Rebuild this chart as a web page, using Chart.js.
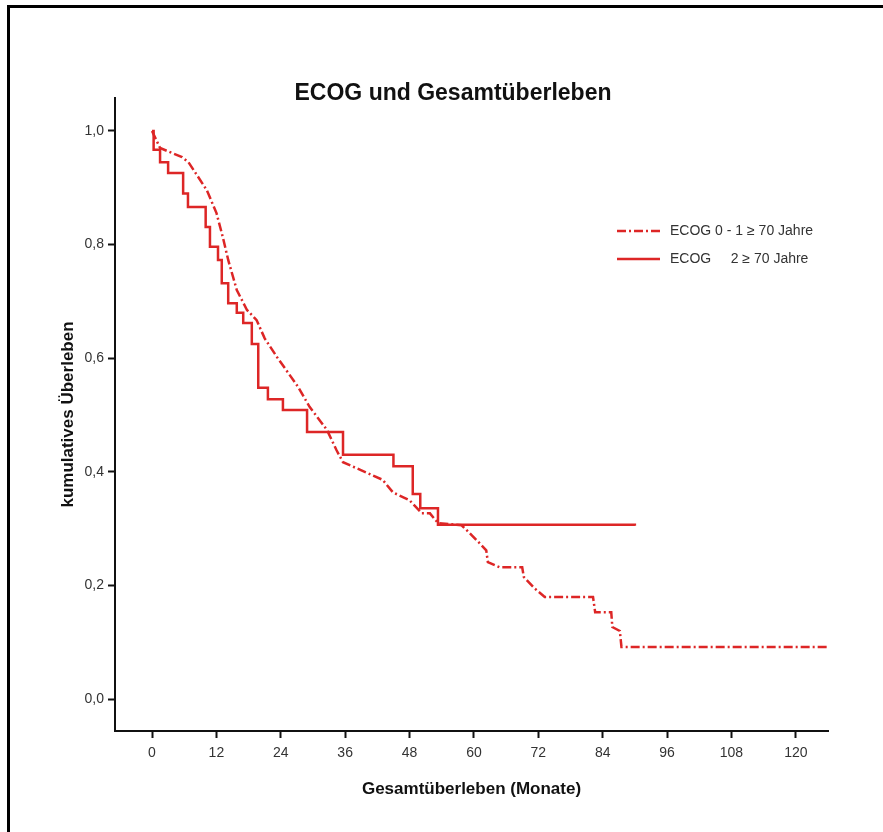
<!DOCTYPE html>
<html>
<head>
<meta charset="utf-8">
<script src="https://cdn.jsdelivr.net/npm/chart.js@4.4.1/dist/chart.umd.min.js"></script>
<style>
  html, body { margin: 0; padding: 0; background: #fff; }
  #wrap { width: 883px; height: 832px; }
</style>
</head>
<body>
<div id="wrap"><canvas id="km" width="883" height="832"></canvas></div>
<script>
// Kaplan-Meier data (months, cumulative survival)
const titleText = 'ECOG und Gesamtüberleben';
const xTitle = 'Gesamtüberleben (Monate)';
const yTitle = 'kumulatives Überleben';
const seriesLabels = ['ECOG 0 - 1 \u2265 70 Jahre', 'ECOG     2 \u2265 70 Jahre'];

// ECOG 0-1: many events, drawn as a polyline
const ecog01Months = [0, 1.5, 5.6, 6.8, 10.2, 12, 13.2, 14.2, 15.8, 17.7, 19.5, 21, 23.3, 27.2, 29.4, 32.6, 34.4, 35.6,
  43, 44.9, 48, 50.3, 51.8, 53.3, 57.7, 58.7, 61, 62.3, 62.6, 64.8, 69, 69.3, 71.3, 73.2, 82.2, 82.6, 85.6, 85.8, 87.2, 87.5, 126];
const ecog01Surv = [1.0, 0.97, 0.954, 0.945, 0.896, 0.856, 0.813, 0.773, 0.72, 0.685, 0.667, 0.635, 0.602, 0.55, 0.514, 0.474, 0.438, 0.417,
  0.386, 0.364, 0.35, 0.327, 0.327, 0.31, 0.306, 0.297, 0.275, 0.262, 0.241, 0.232, 0.232, 0.215, 0.195, 0.18, 0.18, 0.153, 0.153, 0.127, 0.12, 0.092, 0.092];

// ECOG 2: step function, value drops to surv[i] at months[i]
const ecog2Months = [0, 0.3, 1.5, 3, 5.8, 6.7, 10, 10.8, 12.3, 13, 14.2, 15.8, 17, 18.6, 19.8, 21.6, 24.4, 28.9, 35.6, 45, 48.6, 50, 53.3, 90];
const ecog2Surv = [1.0, 0.967, 0.945, 0.926, 0.89, 0.866, 0.831, 0.796, 0.773, 0.732, 0.697, 0.68, 0.662, 0.625, 0.548, 0.528, 0.509, 0.47, 0.43, 0.41, 0.361, 0.336, 0.307, 0.305];

const xTicks = [0, 12, 24, 36, 48, 60, 72, 84, 96, 108, 120];
const yTicks = [0, 0.2, 0.4, 0.6, 0.8, 1.0];

const red = '#dd2626';
const textFont = '"Liberation Sans", Arial, sans-serif';

function toPoints(xs, ys) {
    return xs.map((x, i) => ({ x: x, y: ys[i] }));
}

// frame, title and legend drawn by hand
const decorPlugin = {
    id: 'decor',
    beforeDraw: function (chart) {
        const ctx = chart.ctx;
        ctx.save();
        ctx.fillStyle = '#fff';
        ctx.fillRect(0, 0, chart.width, chart.height);
        ctx.fillStyle = '#000';
        ctx.fillRect(7, 5, chart.width - 7, 3);
        ctx.fillRect(7, 5, 3, chart.height - 5);
        ctx.restore();
    },
    afterDraw: function (chart) {
        const ctx = chart.ctx;
        ctx.save();
        ctx.fillStyle = '#111';
        ctx.font = 'bold 23px ' + textFont;
        ctx.textAlign = 'center';
        ctx.textBaseline = 'middle';
        ctx.fillText(titleText, 453, 94);

        // legend
        ctx.font = '14px ' + textFont;
        ctx.textAlign = 'left';
        chart.data.datasets.forEach((ds, i) => {
            const y = 231 + i * 28;
            ctx.strokeStyle = ds.borderColor;
            ctx.lineWidth = ds.borderWidth;
            ctx.setLineDash(ds.borderDash || []);
            ctx.beginPath();
            ctx.moveTo(617, y);
            ctx.lineTo(660, y);
            ctx.stroke();
            ctx.setLineDash([]);
            ctx.fillStyle = '#333';
            ctx.fillText(ds.label, 670, y);
        });
        ctx.restore();
    }
};

const config = {
    type: 'line',
    data: {
        datasets: [
            {
                label: seriesLabels[0],
                data: toPoints(ecog01Months, ecog01Surv),
                borderColor: red,
                borderWidth: 2.5,
                borderDash: [9, 3, 2, 3],
                pointRadius: 0,
                tension: 0,
                fill: false
            },
            {
                label: seriesLabels[1],
                data: toPoints(ecog2Months, ecog2Surv),
                borderColor: red,
                borderWidth: 2.5,
                stepped: 'before',
                pointRadius: 0,
                fill: false
            }
        ]
    },
    options: {
        responsive: false,
        animation: false,
        layout: { padding: { left: 0, right: 55, top: 98, bottom: 0 } },
        plugins: {
            legend: { display: false },
            tooltip: { enabled: false },
            title: { display: false }
        },
        scales: {
            x: {
                type: 'linear',
                min: -6.9,
                max: 126,
                afterFit: function (scale) { scale.height = 101; },
                afterBuildTicks: function (scale) { scale.ticks = xTicks.map(v => ({ value: v })); },
                border: { color: '#111', width: 2 },
                grid: { drawOnChartArea: false, drawTicks: true, tickLength: 7, tickColor: '#111', tickWidth: 2 },
                ticks: {
                    color: '#333',
                    padding: 7,
                    maxRotation: 0,
                    font: { family: textFont, size: 14 },
                    callback: function (v) { return String(v); }
                },
                title: {
                    display: true,
                    text: xTitle,
                    color: '#111',
                    font: { family: textFont, size: 17, weight: 'bold' },
                    padding: { top: 0, bottom: 32 }
                }
            },
            y: {
                type: 'linear',
                min: -0.056,
                max: 1.058,
                afterFit: function (scale) { scale.width = 115; },
                afterBuildTicks: function (scale) { scale.ticks = yTicks.map(v => ({ value: v })); },
                border: { color: '#111', width: 2 },
                grid: { drawOnChartArea: false, drawTicks: true, tickLength: 7, tickColor: '#111', tickWidth: 2 },
                ticks: {
                    color: '#333',
                    padding: 4,
                    font: { family: textFont, size: 14 },
                    callback: function (v) { return v.toFixed(1).replace('.', ','); }
                },
                title: {
                    display: true,
                    text: yTitle,
                    color: '#111',
                    font: { family: textFont, size: 17, weight: 'bold' },
                    padding: { top: 58, bottom: 0 }
                }
            }
        }
    },
    plugins: [decorPlugin]
};

new Chart(document.getElementById('km').getContext('2d'), config);
</script>
</body>
</html>
